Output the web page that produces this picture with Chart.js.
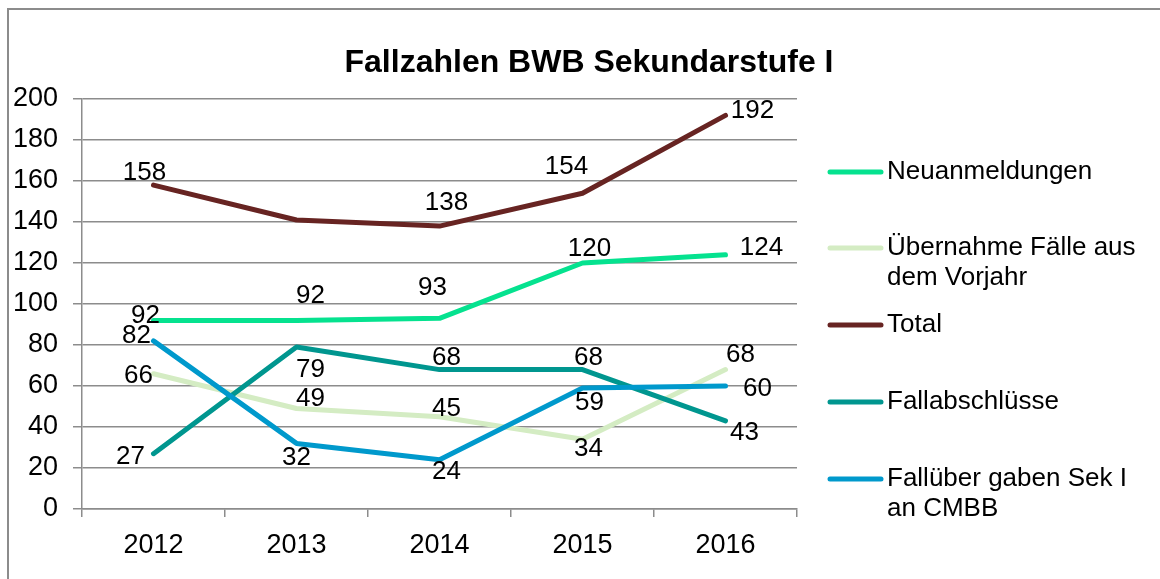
<!DOCTYPE html>
<html>
<head>
<meta charset="utf-8">
<script src="https://cdn.jsdelivr.net/npm/chart.js@4/dist/chart.umd.min.js"></script>
<style>
  html, body { margin: 0; padding: 0; background: #fff; }
  #wrap { width: 1160px; height: 579px; }
</style>
</head>
<body>
<div id="wrap"><canvas id="chart" width="1160" height="579"></canvas></div>
<script>
// data
const years = ["2012", "2013", "2014", "2015", "2016"];
const neuanmeldungen = [92, 92, 93, 120, 124];
const uebernahme = [66, 49, 45, 34, 68];
const total = [158, 141, 138, 154, 192];
const fallabschluesse = [27, 79, 68, 68, 43];
const falluebergaben = [82, 32, 24, 59, 60];
const yTicks = [0, 20, 40, 60, 80, 100, 120, 140, 160, 180, 200];

const TITLE = "Fallzahlen BWB Sekundarstufe I";
const FONT = "'Liberation Sans', Arial, sans-serif";

// label offsets (dx, dy from the point), null = no label
const offNeu = [[-8, -5], [14, -25], [-7, -31], [7, -14], [36, -7]];
const offUeb = [[-15, 2], [14, -10], [7, -8], [6, 10], [15, -15]];
const offTot = [[-9, -12], null, [7, -23], [-16, -26], [27, -5]];
const offAbs = [[-23, 3], [14, 23], [7, -12], [6, -12], [19, 12]];
const offUeg = [[-17, -5], [0, 14], [7, 12], [7, 15], [32, 3]];

const series = [
  { label: "Neuanmeldungen", data: neuanmeldungen, color: "#05E28F", off: offNeu, order: 5 },
  { label: ["Übernahme Fälle aus", "dem Vorjahr"], data: uebernahme, color: "#D4ECC3", off: offUeb, order: 4 },
  { label: "Total", data: total, color: "#672422", off: offTot, order: 3 },
  { label: "Fallabschlüsse", data: fallabschluesse, color: "#00968F", off: offAbs, order: 2 },
  { label: ["Fallüber gaben Sek I", "an CMBB"], data: falluebergaben, color: "#0099CC", off: offUeg, order: 1 }
];

const frame = {
  id: "frame",
  beforeDraw(chart) {
    const ctx = chart.ctx;
    ctx.save();
    ctx.fillStyle = "#fff";
    ctx.fillRect(0, 0, chart.width, chart.height);
    ctx.strokeStyle = "#8c8c8c";
    ctx.lineWidth = 2;
    ctx.beginPath();
    ctx.moveTo(8, chart.height);
    ctx.lineTo(8, 9);
    ctx.lineTo(chart.width, 9);
    ctx.stroke();
    // title
    ctx.fillStyle = "#000";
    ctx.font = "bold 32px " + FONT;
    ctx.textAlign = "center";
    ctx.textBaseline = "middle";
    ctx.fillText(TITLE, 589, 63);
    ctx.restore();
  }
};

const valueLabels = {
  id: "valueLabels",
  afterDatasetsDraw(chart) {
    const ctx = chart.ctx;
    ctx.save();
    ctx.fillStyle = "#000";
    ctx.font = "26px " + FONT;
    ctx.textAlign = "center";
    ctx.textBaseline = "middle";
    chart.data.datasets.forEach((ds, i) => {
      const meta = chart.getDatasetMeta(i);
      meta.data.forEach((pt, j) => {
        const o = series[i].off[j];
        if (!o) return;
        ctx.fillText(String(ds.data[j]), pt.x + o[0], pt.y + o[1]);
      });
    });
    ctx.restore();
  }
};

const sideLegend = {
  id: "sideLegend",
  afterDraw(chart) {
    const ctx = chart.ctx;
    const rows = [172, 248, 325, 402, 479];
    ctx.save();
    ctx.font = "26px " + FONT;
    ctx.textBaseline = "middle";
    ctx.textAlign = "left";
    series.forEach((s, i) => {
      const y = rows[i];
      ctx.strokeStyle = s.color;
      ctx.lineWidth = 5;
      ctx.lineCap = "round";
      ctx.beginPath();
      ctx.moveTo(830, y);
      ctx.lineTo(881, y);
      ctx.stroke();
      ctx.fillStyle = "#000";
      const lines = Array.isArray(s.label) ? s.label : [s.label];
      lines.forEach((t, k) => ctx.fillText(t, 887, y + k * 30));
    });
    ctx.restore();
  }
};

new Chart(document.getElementById("chart"), {
  type: "line",
  data: {
    labels: years,
    datasets: series.map(s => ({
      label: Array.isArray(s.label) ? s.label.join(" ") : s.label,
      data: s.data,
      borderColor: s.color,
      backgroundColor: s.color,
      borderWidth: 5,
      borderCapStyle: "round",
      borderJoinStyle: "round",
      pointRadius: 0,
      tension: 0,
      order: s.order
    }))
  },
  options: {
    responsive: false,
    animation: false,
    layout: { padding: { top: 99, right: 363, bottom: 0, left: 0 } },
    plugins: {
      legend: { display: false },
      title: { display: false },
      tooltip: { enabled: false }
    },
    scales: {
      x: {
        offset: true,
        afterFit(scale) { scale.height = 70; },
        grid: { offset: true, drawOnChartArea: false, color: "#8c8c8c", lineWidth: 1.5, tickLength: 8 },
        border: { color: "#8c8c8c", width: 1.5 },
        ticks: { color: "#000", font: { family: FONT, size: 27 }, padding: 12 }
      },
      y: {
        min: 0,
        max: 200,
        afterFit(scale) { scale.width = 82; },
        afterBuildTicks(scale) { scale.ticks = yTicks.map(v => ({ value: v })); },
        grid: { color: "#8c8c8c", lineWidth: 1.5, tickLength: 9 },
        border: { color: "#8c8c8c", width: 1.5 },
        ticks: { color: "#000", font: { family: FONT, size: 27 }, padding: 15 }
      }
    }
  },
  plugins: [frame, valueLabels, sideLegend]
});
</script>
</body>
</html>
